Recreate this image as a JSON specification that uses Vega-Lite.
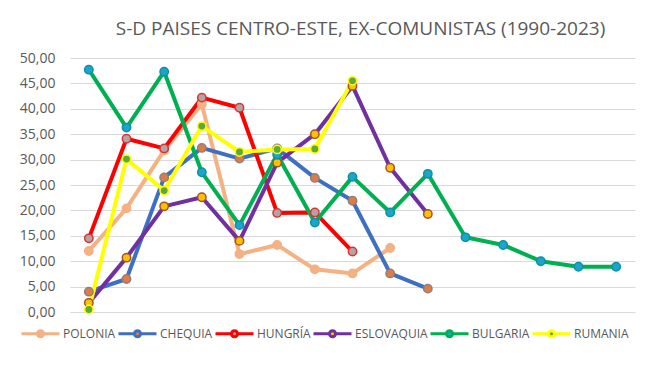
{
  "$schema": "https://vega.github.io/schema/vega-lite/v6.json",
  "width": 565,
  "height": 254,
  "autosize": {"type": "none"},
  "padding": {"left": 70, "top": 58, "right": 31, "bottom": 65},
  "background": "white",
  "title": {"text": "S-D PAISES CENTRO-ESTE, EX-COMUNISTAS (1990-2023)", "font": "Open Sans", "fontSize": 19, "fontWeight": "normal", "color": "#595959", "anchor": "middle", "dx": 8, "offset": 12},
  "data": {"values": [
    {"p": "POLONIA", "t": 1, "v": 12.0}, {"p": "POLONIA", "t": 2, "v": 20.4}, {"p": "POLONIA", "t": 3, "v": 31.8}, {"p": "POLONIA", "t": 4, "v": 40.9}, {"p": "POLONIA", "t": 5, "v": 11.4}, {"p": "POLONIA", "t": 6, "v": 13.2}, {"p": "POLONIA", "t": 7, "v": 8.4}, {"p": "POLONIA", "t": 8, "v": 7.6}, {"p": "POLONIA", "t": 9, "v": 12.6},
    {"p": "CHEQUIA", "t": 1, "v": 4.0}, {"p": "CHEQUIA", "t": 2, "v": 6.5}, {"p": "CHEQUIA", "t": 3, "v": 26.5}, {"p": "CHEQUIA", "t": 4, "v": 32.3}, {"p": "CHEQUIA", "t": 5, "v": 30.2}, {"p": "CHEQUIA", "t": 6, "v": 32.2}, {"p": "CHEQUIA", "t": 7, "v": 26.4}, {"p": "CHEQUIA", "t": 8, "v": 21.9}, {"p": "CHEQUIA", "t": 9, "v": 7.6}, {"p": "CHEQUIA", "t": 10, "v": 4.6},
    {"p": "HUNGRÍA", "t": 1, "v": 14.5}, {"p": "HUNGRÍA", "t": 2, "v": 34.1}, {"p": "HUNGRÍA", "t": 3, "v": 32.2}, {"p": "HUNGRÍA", "t": 4, "v": 42.2}, {"p": "HUNGRÍA", "t": 5, "v": 40.2}, {"p": "HUNGRÍA", "t": 6, "v": 19.5}, {"p": "HUNGRÍA", "t": 7, "v": 19.6}, {"p": "HUNGRÍA", "t": 8, "v": 11.9},
    {"p": "ESLOVAQUIA", "t": 1, "v": 1.8}, {"p": "ESLOVAQUIA", "t": 2, "v": 10.7}, {"p": "ESLOVAQUIA", "t": 3, "v": 20.8}, {"p": "ESLOVAQUIA", "t": 4, "v": 22.6}, {"p": "ESLOVAQUIA", "t": 5, "v": 14.0}, {"p": "ESLOVAQUIA", "t": 6, "v": 29.4}, {"p": "ESLOVAQUIA", "t": 7, "v": 35.0}, {"p": "ESLOVAQUIA", "t": 8, "v": 44.5}, {"p": "ESLOVAQUIA", "t": 9, "v": 28.4}, {"p": "ESLOVAQUIA", "t": 10, "v": 19.3},
    {"p": "BULGARIA", "t": 1, "v": 47.7}, {"p": "BULGARIA", "t": 2, "v": 36.3}, {"p": "BULGARIA", "t": 3, "v": 47.3}, {"p": "BULGARIA", "t": 4, "v": 27.5}, {"p": "BULGARIA", "t": 5, "v": 17.1}, {"p": "BULGARIA", "t": 6, "v": 31.0}, {"p": "BULGARIA", "t": 7, "v": 17.6}, {"p": "BULGARIA", "t": 8, "v": 26.6}, {"p": "BULGARIA", "t": 9, "v": 19.6}, {"p": "BULGARIA", "t": 10, "v": 27.2}, {"p": "BULGARIA", "t": 11, "v": 14.7}, {"p": "BULGARIA", "t": 12, "v": 13.2}, {"p": "BULGARIA", "t": 13, "v": 10.0}, {"p": "BULGARIA", "t": 14, "v": 8.9}, {"p": "BULGARIA", "t": 15, "v": 8.9},
    {"p": "RUMANIA", "t": 1, "v": 0.5}, {"p": "RUMANIA", "t": 2, "v": 30.1}, {"p": "RUMANIA", "t": 3, "v": 23.9}, {"p": "RUMANIA", "t": 4, "v": 36.6}, {"p": "RUMANIA", "t": 5, "v": 31.5}, {"p": "RUMANIA", "t": 6, "v": 32.0}, {"p": "RUMANIA", "t": 7, "v": 32.1}, {"p": "RUMANIA", "t": 8, "v": 45.5}
  ]},
  "encoding": {
    "x": {"field": "t", "type": "ordinal", "scale": {"type": "point", "padding": 0.5}, "axis": null},
    "y": {"field": "v", "type": "quantitative", "scale": {"domain": [0, 50], "nice": false},
      "axis": {"title": null, "values": [0, 5, 10, 15, 20, 25, 30, 35, 40, 45, 50], "format": ".2f", "domain": false, "ticks": false, "labelPadding": 15, "labelFont": "Open Sans", "labelFontSize": 14, "labelColor": "#595959", "gridColor": "#D9D9D9", "gridWidth": 1}}
  },
  "layer": [
    {"mark": {"type": "line", "strokeWidth": 4, "strokeJoin": "round"},
     "encoding": {"color": {"field": "p", "type": "nominal",
       "scale": {"domain": ["POLONIA", "CHEQUIA", "HUNGRÍA", "ESLOVAQUIA", "BULGARIA", "RUMANIA"], "range": ["#F4B183", "#3F6FC1", "#FF0000", "#7030A0", "#00B050", "#FFFF00"]},
       "legend": {"orient": "none", "legendX": -50, "legendY": 255, "direction": "horizontal", "columns": 6, "title": null,
         "symbolType": "M-1,0H-0.16A0.16,0.16,0,1,1,0.16,0A0.16,0.16,0,1,1,-0.16,0M0.16,0H1", "symbolSize": 1444, "symbolStrokeWidth": 3,
         "labelFont": "Open Sans", "labelFontSize": 12, "labelColor": "#595959", "labelOffset": 2, "columnPadding": -4, "padding": 0,
         "encode": {"symbols": {"update": {"fill": {"scale": "fill", "field": "value"}}}}}}}},
    {"mark": {"type": "point", "filled": true, "size": 70, "strokeWidth": 1.5, "opacity": 1},
     "encoding": {
       "fill": {"field": "p", "type": "nominal", "legend": null, "scale": {"domain": ["POLONIA", "CHEQUIA", "HUNGRÍA", "ESLOVAQUIA", "BULGARIA", "RUMANIA"], "range": ["#F4B183", "#E07B45", "#B4A3A3", "#FFC000", "#1AA6C8", "#5DAA3A"]}},
       "stroke": {"field": "p", "type": "nominal", "legend": null, "scale": {"domain": ["POLONIA", "CHEQUIA", "HUNGRÍA", "ESLOVAQUIA", "BULGARIA", "RUMANIA"], "range": ["#F4B183", "#8E7F7A", "#E03030", "#A0522D", "#0E8FA8", "#FFFF00"]}}}}
  ],
  "config": {"view": {"stroke": null}, "locale": {"number": {"decimal": ",", "thousands": ".", "grouping": [3], "currency": ["", " €"]}}}
}
